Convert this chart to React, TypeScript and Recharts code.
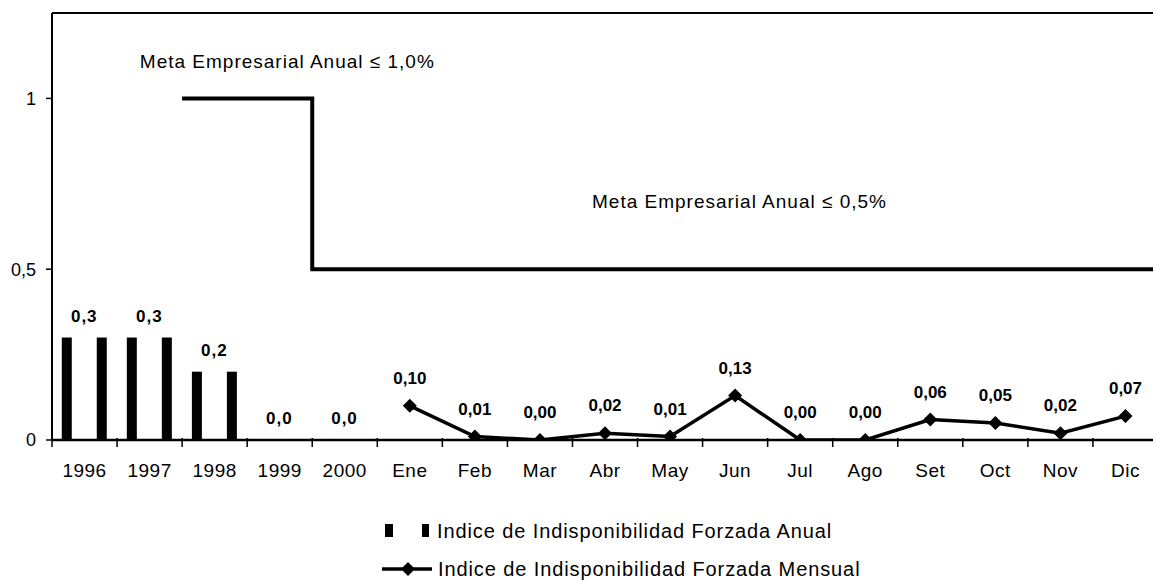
import React from "react";
import {
  Bar,
  ComposedChart,
  LabelList,
  Legend,
  Line,
  ReferenceDot,
  ReferenceLine,
  XAxis,
  YAxis,
} from "recharts";

const years = ["1996", "1997", "1998", "1999", "2000"];
const months = ["Ene", "Feb", "Mar", "Abr", "May", "Jun", "Jul", "Ago", "Set", "Oct", "Nov", "Dic"];
const annualIndex = [0.3, 0.3, 0.2, 0.0, 0.0];
const monthlyIndex = [0.1, 0.01, 0.0, 0.02, 0.01, 0.13, 0.0, 0.0, 0.06, 0.05, 0.02, 0.07];

// company target: band edges (category index ± 0.5) and level
const metaX = [1.5, 3.5, 3.5, 16.5];
const metaY = [1, 1, 0.5, 0.5];
const metaNotes = [
  { x: 0.85, y: 1.11, text: "Meta Empresarial Anual ≤ 1,0%" },
  { x: 7.8, y: 0.7, text: "Meta Empresarial Anual ≤ 0,5%" },
];
const yTicks = [0, 0.5, 1];
const yMax = 1.25;

const categories = [...years, ...months];
const rows = categories.map((label, i) => ({
  x: i,
  label,
  anual: i < years.length ? annualIndex[i] : null,
  mensual: i >= years.length ? monthlyIndex[i - years.length] : null,
}));
const metaRows = metaX.map((x, i) => ({ x, y: metaY[i] }));
// ticks every half step: integers carry the category name, half steps the tick mark
const xTicks = [-0.5, ...categories.flatMap((_, i) => [i, i + 0.5])];
const xDomain: [number, number] = [-0.5, categories.length - 0.5];

const FONT = '"Liberation Sans", Arial, sans-serif';
const BAR_W = 45;
const STRIPE_W = 10;

const comma = (v: any, digits: number) =>
  v === null || v === undefined ? "" : Number(v).toFixed(digits).replace(".", ",");

function XTick(props: any) {
  const { x, y, payload } = props;
  const v = payload.value;
  if (Number.isInteger(v)) {
    return (
      <text x={x} y={y + 37} textAnchor="middle" fontSize={19} fill="#000" style={{ letterSpacing: 0.5 }}>
        {categories[v]}
      </text>
    );
  }
  return <line x1={x} y1={y - 2} x2={x} y2={y + 7} stroke="#000" strokeWidth={1.5} />;
}

// the annual series is printed as a striped fill: two dark stripes at the bar edges
function TwinBar(props: any) {
  const { x, y, width, height } = props;
  if (!height || height <= 0) return <g />;
  const left = x + width / 2 - BAR_W / 2;
  return (
    <g>
      <rect x={left} y={y} width={STRIPE_W} height={height} fill="#000" />
      <rect x={left + BAR_W - STRIPE_W} y={y} width={STRIPE_W} height={height} fill="#000" />
    </g>
  );
}

function Diamond(props: any) {
  const { cx, cy, index } = props;
  if (cy === null || cy === undefined || Number.isNaN(cy)) return <g key={index} />;
  const r = 7;
  return (
    <polygon
      key={index}
      points={`${cx},${cy - r} ${cx + r},${cy} ${cx},${cy + r} ${cx - r},${cy}`}
      fill="#000"
    />
  );
}

function LegendBox() {
  const row: React.CSSProperties = {
    display: "flex",
    alignItems: "center",
    height: 20,
    fontSize: 20,
    letterSpacing: 0.9,
    color: "#000",
    fontFamily: FONT,
    whiteSpace: "nowrap",
  };
  return (
    <div style={{ paddingLeft: 382, height: 58 }}>
      <div style={row}>
        <svg width={55} height={20}>
          <rect x={3} y={3} width={8} height={13} fill="#000" />
          <rect x={40} y={3} width={7} height={13} fill="#000" />
        </svg>
        Indice de Indisponibilidad Forzada Anual
      </div>
      <div style={{ ...row, marginTop: 18 }}>
        <svg width={56} height={20}>
          <line x1={0} y1={10} x2={50} y2={10} stroke="#000" strokeWidth={3.5} />
          <polygon points="26,3 33,10 26,17 19,10" fill="#000" />
        </svg>
        Indice de Indisponibilidad Forzada Mensual
      </div>
    </div>
  );
}

export default function App() {
  return (
    <div
      style={{
        position: "absolute",
        left: 0,
        top: 0,
        width: 1153,
        height: 580,
        overflow: "hidden",
        background: "#fff",
        fontFamily: FONT,
      }}
    >
      <ComposedChart width={1158} height={580} data={rows} margin={{ top: 13, right: 0, bottom: 1, left: 0 }}>
        <XAxis
          dataKey="x"
          type="number"
          domain={xDomain}
          allowDataOverflow
          ticks={xTicks}
          interval={0}
          tickSize={0}
          tickMargin={0}
          tickLine={false}
          tick={<XTick />}
          height={81}
          axisLine={{ stroke: "#000", strokeWidth: 2.5 }}
        />
        <YAxis
          domain={[0, yMax]}
          allowDataOverflow
          ticks={yTicks}
          interval={0}
          tickFormatter={(v: number) => String(v).replace(".", ",")}
          width={52}
          tickSize={6}
          tickMargin={10}
          axisLine={{ stroke: "#000", strokeWidth: 2 }}
          tickLine={{ stroke: "#000", strokeWidth: 1.5 }}
          tick={{ fill: "#000", fontSize: 18 }}
        />
        <ReferenceLine y={yMax} stroke="#000" strokeWidth={2} />
        <Bar dataKey="anual" barSize={30} shape={TwinBar} isAnimationActive={false}>
          <LabelList
            dataKey="anual"
            position="top"
            offset={16}
            formatter={(v: any) => comma(v, 1)}
            fill="#000"
            fontSize={17}
            fontWeight="bold"
            style={{ letterSpacing: 1 }}
          />
        </Bar>
        <Line
          data={metaRows}
          dataKey="y"
          stroke="#000"
          strokeWidth={4}
          dot={false}
          activeDot={false}
          legendType="none"
          isAnimationActive={false}
        />
        <Line
          dataKey="mensual"
          stroke="#000"
          strokeWidth={3.5}
          dot={Diamond}
          activeDot={false}
          isAnimationActive={false}
        >
          <LabelList
            dataKey="mensual"
            position="top"
            offset={22}
            formatter={(v: any) => comma(v, 2)}
            fill="#000"
            fontSize={17}
            fontWeight="bold"
          />
        </Line>
        {metaNotes.map((n) => (
          <ReferenceDot
            key={n.text}
            x={n.x}
            y={n.y}
            r={0}
            fill="none"
            stroke="none"
            label={{
              value: n.text,
              position: "right",
              offset: 0,
              fill: "#000",
              fontSize: 19,
              style: { letterSpacing: 1 },
            }}
          />
        ))}
        <Legend verticalAlign="bottom" content={<LegendBox />} />
      </ComposedChart>
    </div>
  );
}
